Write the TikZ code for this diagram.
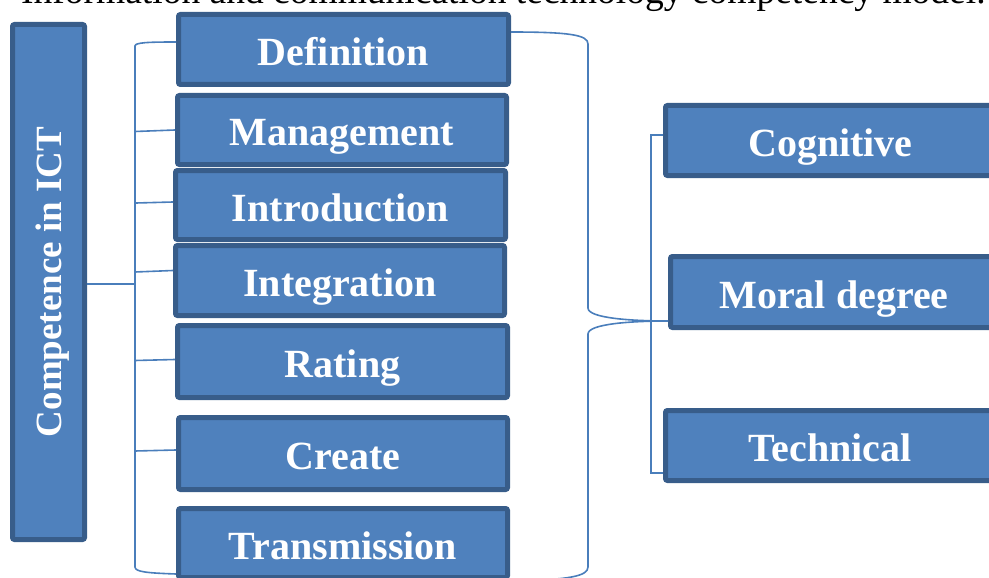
\documentclass[tikz,border=0pt]{standalone}
\usepackage{fontspec}
\setmainfont{Liberation Serif}
\definecolor{boxfill}{HTML}{4F81BD}
\definecolor{boxedge}{HTML}{385D8A}
\definecolor{linec}{HTML}{4A7EBB}
\begin{document}
\begin{tikzpicture}[x=1pt,y=-1pt,
  box/.style={draw=boxedge, fill=boxfill, line width=5pt, rounded corners=2pt,
    text=white, font=\bfseries\fontsize{40}{44}\selectfont,
    text height=32pt, text depth=0pt, inner sep=0pt},
  conn/.style={draw=linec, line width=1.6pt}]
\useasboundingbox (0,0) rectangle (989,578);
\clip (0,0) rectangle (989,578);
\node[anchor=base west, font=\fontsize{37.5}{40}\selectfont, inner sep=0pt] (title) at (21,4)
  {Information and communication technology competency model.};
% left tall box
\node[box, rotate=90, minimum width=515pt, minimum height=72pt,
  font=\bfseries\fontsize{37}{42}\selectfont, text height=25pt] (comp) at (48.5,282) {Competence in ICT};
% middle column
\node[box, minimum width=330pt, minimum height=70pt] (def) at (343.5,49.5) {Definition};
\node[box, minimum width=329pt, minimum height=69pt] (mgmt) at (342,130) {Management};
\node[box, minimum width=330pt, minimum height=69pt] (intro) at (340.5,205) {Introduction};
\node[box, minimum width=329pt, minimum height=70pt] (integ) at (340,280.5) {Integration};
\node[box, minimum width=330pt, minimum height=72pt] (rate) at (342.5,361.5) {Rating};
\node[box, minimum width=329pt, minimum height=72pt] (create) at (343,453.5) {Create};
\node[box, minimum width=329pt, minimum height=69pt] (trans) at (343,543) {Transmission};
% right column
\node[box, minimum width=330pt, minimum height=70pt] (cog) at (830.5,140.5) {Cognitive};
\node[box, minimum width=327pt, minimum height=71pt] (moral) at (834,292) {Moral degree};
\node[box, minimum width=329pt, minimum height=70pt] (tech) at (830,445.5) {Technical};
% left bracket
\coordinate (trunk) at (135,284);
\draw[conn] (comp.south |- trunk) -- (trunk);
\draw[conn] (def.west |- 0,42) .. controls (148,42) and (135,42.5) .. (135,46)
  -- (135,567) .. controls (135,572) and (148,573) .. (trans.west |- 0,574);
\draw[conn] (mgmt.west |- 0,130) -- (135,131.5);
\draw[conn] (intro.west |- 0,202) -- (136,203);
\draw[conn] (integ.west |- 0,270.5) -- (135,272);
\draw[conn] (rate.west |- 0,359.5) -- (135,360.5);
\draw[conn] (create.west |- 0,450) -- (135,451);
% right brace
\draw[conn] (def.east |- 0,32) .. controls (570,32) and (588,35) .. (588,44)
  -- (588,308) .. controls (588,318) and (630,321) .. (moral.west |- 0,321);
\draw[conn] (moral.west |- 0,321) .. controls (630,321) and (588,324) .. (588,334)
  -- (588,567) .. controls (588,576) and (570,580) .. (trans.east |- 0,581);
% right bracket
\draw[conn] (cog.west |- 0,135) -- (651,135) -- (651,473) -- (tech.west |- 0,473);
\end{tikzpicture}
\end{document}
